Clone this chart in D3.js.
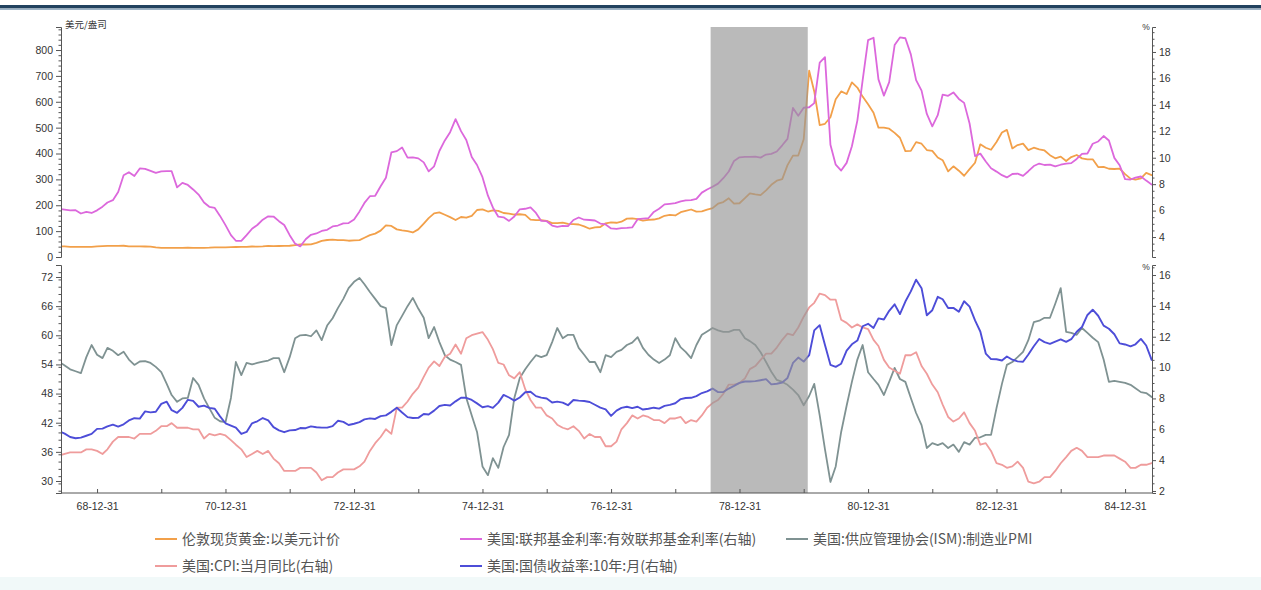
<!DOCTYPE html>
<html>
<head>
<meta charset="utf-8">
<script src="https://cdnjs.cloudflare.com/ajax/libs/d3/7.8.5/d3.min.js"></script>
<style>
  html,body{margin:0;padding:0;background:#fff;}
  svg{display:block;}
  .tick text{font-family:"Liberation Sans","DejaVu Sans",sans-serif;fill:#333;}
</style>
</head>
<body>
<svg id="chart" width="1261" height="590"></svg>
<script>
// ---------------- DATA (monthly, first value = 1968-05, month-end) ----------------
const startMonth = "1968-05";

// 伦敦现货黄金:以美元计价 (USD/oz, left axis, top panel)
const goldPrice = [
  41.0, 41.1, 39.5, 39.2, 39.5, 39.3, 39.2, 41.1,
  42.3, 42.8, 43.0, 43.3, 43.5, 41.3, 41.3, 41.0, 40.6, 40.4, 37.0, 35.2,
  34.9, 35.0, 35.1, 35.6, 35.9, 35.4, 35.3, 35.4, 36.2, 37.5, 37.4, 37.4,
  37.9, 38.7, 38.9, 39.0, 40.5, 40.1, 41.0, 42.7, 42.0, 42.5, 42.9, 43.5,
  45.8, 48.3, 48.3, 49.0, 54.6, 62.1, 65.7, 67.0, 65.5, 64.9, 62.9, 63.9,
  65.1, 74.2, 84.4, 90.5, 102.0, 122.5, 120.2, 106.8, 103.0, 100.1, 94.8, 106.7,
  129.2, 150.2, 168.4, 172.2, 163.3, 154.1, 142.9, 154.6, 151.8, 158.8, 181.7, 183.9,
  175.8, 180.0, 178.2, 170.1, 167.4, 164.2, 165.2, 163.1, 144.3, 142.8, 142.3, 139.3,
  131.0, 131.1, 132.6, 127.9, 126.9, 125.6, 118.3, 109.3, 114.3, 116.0, 130.3, 133.9,
  132.3, 136.3, 148.2, 149.2, 146.6, 140.8, 143.4, 144.9, 149.1, 159.3, 162.5, 160.5,
  173.3, 178.3, 183.6, 175.3, 176.3, 183.0, 189.0, 206.0, 212.3, 227.0, 206.0, 207.8,
  227.3, 245.7, 242.1, 239.2, 257.6, 279.1, 294.9, 300.8, 355.1, 392.0, 392.3, 455.1,
  720.0, 640.0, 510.0, 515.0, 540.0, 610.0, 640.0, 630.0, 675.0, 655.0, 620.0, 590.0,
  557.5, 500.0, 499.8, 495.8, 479.7, 460.8, 409.3, 410.2, 443.9, 437.8, 413.4, 410.1,
  384.4, 374.2, 330.8, 350.5, 333.5, 314.0, 339.5, 364.4, 435.6, 422.3, 414.6, 444.5,
  481.0, 491.5, 419.8, 432.8, 438.2, 412.9, 422.4, 416.3, 411.8, 393.6, 381.5, 388.0,
  370.9, 386.2, 394.3, 381.2, 377.7, 377.5, 347.6, 348.0, 341.1, 340.2, 341.2, 320.2,
  302.8, 299.1, 304.0, 324.9, 316.6
];

// 美国:联邦基金利率:有效联邦基金利率 (%, right axis, top panel)
const fedFundsRate = [
  6.12, 6.07, 6.02, 6.03, 5.78, 5.91, 5.82, 6.02,
  6.30, 6.61, 6.79, 7.41, 8.67, 8.90, 8.61, 9.19, 9.15, 9.00, 8.85, 8.97,
  8.98, 8.98, 7.76, 8.10, 7.94, 7.60, 7.21, 6.61, 6.29, 6.20, 5.60, 4.90,
  4.14, 3.72, 3.71, 4.15, 4.63, 4.91, 5.31, 5.57, 5.55, 5.20, 4.91, 4.14,
  3.50, 3.29, 3.83, 4.17, 4.27, 4.46, 4.55, 4.80, 4.87, 5.04, 5.06, 5.33,
  5.94, 6.58, 7.09, 7.12, 7.84, 8.49, 10.40, 10.50, 10.78, 10.01, 10.03, 9.95,
  9.65, 8.97, 9.35, 10.51, 11.31, 11.93, 12.92, 12.01, 11.34, 10.06, 9.45, 8.53,
  7.13, 6.24, 5.54, 5.49, 5.22, 5.55, 6.10, 6.14, 6.24, 5.82, 5.22, 5.20,
  4.87, 4.77, 4.84, 4.82, 5.29, 5.48, 5.31, 5.29, 5.25, 5.02, 4.95, 4.65,
  4.61, 4.68, 4.69, 4.73, 5.35, 5.39, 5.42, 5.90, 6.14, 6.47, 6.51, 6.56,
  6.70, 6.78, 6.79, 6.89, 7.36, 7.60, 7.81, 8.04, 8.45, 8.96, 9.76, 10.03,
  10.07, 10.06, 10.09, 10.01, 10.24, 10.29, 10.47, 10.94, 11.43, 13.77, 13.18, 13.78,
  13.82, 14.13, 17.19, 17.61, 10.98, 9.47, 9.03, 9.61, 10.87, 12.81, 15.85, 18.90,
  19.08, 15.93, 14.70, 15.72, 18.52, 19.10, 19.04, 17.82, 15.87, 15.08, 13.31, 12.37,
  13.22, 14.78, 14.68, 14.94, 14.45, 14.15, 12.59, 10.12, 10.31, 9.71, 9.20, 8.95,
  8.68, 8.51, 8.77, 8.80, 8.63, 8.98, 9.37, 9.56, 9.45, 9.48, 9.34, 9.47,
  9.56, 9.59, 9.91, 10.29, 10.32, 11.06, 11.23, 11.64, 11.30, 9.99, 9.43, 8.38,
  8.35, 8.50, 8.58, 8.27, 7.97
];

// 美国:供应管理协会(ISM):制造业PMI (left axis, bottom panel)
const ismPMI = [
  54.5, 53.8, 53.0, 52.6, 52.2, 55.5, 58.0, 56.0,
  55.3, 57.4, 56.8, 55.9, 56.6, 55.0, 53.9, 54.6, 54.7, 54.3, 53.5, 52.4,
  50.0, 47.7, 46.3, 47.0, 47.1, 51.2, 49.8, 47.0, 45.0, 43.0, 42.3, 42.1,
  47.1, 54.5, 51.8, 54.3, 54.0, 54.3, 54.6, 54.8, 55.3, 55.3, 52.4, 55.5,
  59.4, 60.0, 60.1, 59.8, 61.0, 59.0, 62.0, 63.5, 65.6, 67.5, 69.7, 71.0,
  71.8, 70.5, 68.9, 67.5, 66.0, 65.6, 58.0, 62.1, 64.0, 66.0, 67.7, 65.5,
  63.6, 59.4, 61.7, 58.6, 55.9, 55.0, 54.5, 53.9, 47.1, 43.5, 40.1, 33.0,
  31.2, 34.7, 32.7, 37.0, 39.5, 47.1, 51.2, 53.0, 54.5, 55.9, 55.5, 55.9,
  58.6, 61.5, 59.4, 60.1, 60.1, 57.4, 56.0, 54.5, 54.5, 52.4, 55.9, 55.5,
  56.6, 57.0, 58.0, 58.5, 59.6, 57.4, 56.0, 55.0, 54.3, 55.0, 55.9, 59.4,
  57.5, 56.6, 55.3, 58.0, 60.1, 60.8, 61.5, 61.0, 60.7, 60.7, 61.1, 61.1,
  59.4, 58.8, 58.0, 56.5, 54.5, 52.5, 50.8, 50.4, 49.8, 48.8, 47.7, 45.6,
  47.5, 50.0, 43.5, 36.5, 29.8, 33.0, 40.1, 45.5, 50.4, 55.0, 58.0, 52.4,
  51.0, 49.8, 47.7, 50.4, 53.3, 51.0, 50.4, 47.1, 44.0, 41.5, 36.8, 37.8,
  37.4, 37.8, 36.8, 37.5, 36.0, 38.0, 37.5, 38.9, 39.0, 39.5, 39.5, 45.0,
  50.0, 53.9, 54.5, 55.5, 56.6, 59.0, 62.7, 63.0, 63.6, 63.6, 66.5, 69.7,
  60.7, 60.5, 60.1, 61.5, 60.5, 59.5, 58.6, 55.0, 50.4, 50.6, 50.4, 50.2,
  49.8, 49.1, 48.3, 48.1, 47.3
];

// 美国:CPI:当月同比 (%, right axis, bottom panel)
const cpiYoY = [
  4.3, 4.4, 4.5, 4.5, 4.5, 4.7, 4.7, 4.6,
  4.4, 4.7, 5.2, 5.5, 5.5, 5.5, 5.4, 5.7, 5.7, 5.7, 5.9, 6.2,
  6.2, 6.4, 6.1, 6.1, 6.1, 6.0, 6.0, 5.4, 5.7, 5.6, 5.7, 5.6,
  5.3, 5.0, 4.7, 4.2, 4.4, 4.6, 4.4, 4.6, 4.1, 3.8, 3.3, 3.3,
  3.3, 3.5, 3.5, 3.5, 3.2, 2.7, 2.9, 2.9, 3.2, 3.4, 3.4, 3.4,
  3.6, 3.9, 4.6, 5.1, 5.5, 6.0, 5.7, 7.4, 7.4, 7.8, 8.3, 8.7,
  9.4, 10.0, 10.4, 10.1, 10.7, 10.9, 11.5, 10.9, 11.9, 12.1, 12.2, 12.3,
  11.8, 11.2, 10.3, 10.2, 9.5, 9.3, 9.7, 8.6, 7.9, 7.4, 7.4, 6.9,
  6.7, 6.3, 6.1, 6.0, 6.2, 5.9, 5.4, 5.7, 5.5, 5.5, 4.9, 4.9,
  5.2, 6.0, 6.4, 6.9, 6.7, 6.9, 6.8, 6.6, 6.6, 6.4, 6.7, 6.7,
  6.8, 6.4, 6.6, 6.5, 6.9, 7.4, 7.7, 7.9, 8.3, 8.9, 8.9, 9.0,
  9.3, 9.9, 10.1, 10.5, 10.9, 10.9, 11.3, 11.8, 12.2, 12.1, 12.6, 13.3,
  13.9, 14.2, 14.8, 14.7, 14.4, 14.4, 13.1, 12.9, 12.6, 12.8, 12.6, 12.5,
  11.8, 11.4, 10.5, 10.0, 9.8, 9.6, 10.8, 10.8, 11.0, 10.1, 9.6, 8.9,
  8.4, 7.6, 6.8, 6.5, 6.7, 7.1, 6.4, 5.9, 5.0, 5.1, 4.6, 3.8,
  3.7, 3.5, 3.6, 3.9, 3.5, 2.6, 2.5, 2.6, 2.9, 2.9, 3.3, 3.8,
  4.2, 4.6, 4.8, 4.6, 4.2, 4.2, 4.2, 4.3, 4.3, 4.3, 4.1, 3.9,
  3.5, 3.5, 3.7, 3.7, 3.8
];

// 美国:国债收益率:10年:月 (%, right axis, bottom panel)
const treasury10Y = [
  5.87, 5.72, 5.50, 5.42, 5.46, 5.58, 5.70, 6.03,
  6.04, 6.19, 6.30, 6.17, 6.32, 6.57, 6.72, 6.69, 7.16, 7.10, 7.14, 7.65,
  7.79, 7.24, 7.07, 7.39, 7.91, 7.84, 7.46, 7.53, 7.39, 7.33, 6.84, 6.39,
  6.24, 6.11, 5.70, 5.83, 6.39, 6.52, 6.73, 6.58, 6.14, 5.93, 5.81, 5.93,
  5.95, 6.08, 6.07, 6.19, 6.13, 6.11, 6.11, 6.21, 6.55, 6.48, 6.28, 6.36,
  6.46, 6.64, 6.71, 6.67, 6.85, 6.90, 7.13, 7.40, 7.09, 6.79, 6.73, 6.74,
  6.99, 6.96, 7.21, 7.51, 7.58, 7.54, 7.81, 8.04, 8.04, 7.90, 7.68, 7.43,
  7.50, 7.39, 7.73, 8.23, 8.06, 7.86, 8.06, 8.40, 8.43, 8.15, 8.05, 8.00,
  7.74, 7.79, 7.73, 7.56, 7.90, 7.86, 7.83, 7.77, 7.59, 7.41, 7.29, 6.87,
  7.21, 7.39, 7.46, 7.37, 7.46, 7.28, 7.33, 7.40, 7.34, 7.52, 7.58, 7.69,
  7.96, 8.03, 8.04, 8.15, 8.35, 8.46, 8.64, 8.41, 8.42, 8.64, 8.81, 9.01,
  9.10, 9.10, 9.12, 9.18, 9.25, 8.91, 8.95, 9.03, 9.33, 10.30, 10.65, 10.39,
  10.80, 12.41, 12.75, 11.47, 10.18, 10.05, 10.25, 11.10, 11.51, 11.75, 12.68, 12.84,
  12.57, 13.19, 13.12, 13.68, 14.10, 13.47, 14.28, 14.94, 15.70, 15.15, 13.39, 13.72,
  14.59, 14.43, 13.86, 13.87, 13.62, 14.30, 13.95, 13.06, 12.34, 10.91, 10.55, 10.54,
  10.46, 10.72, 10.51, 10.40, 10.38, 10.85, 11.38, 11.85, 11.65, 11.54, 11.69, 11.83,
  11.67, 11.84, 12.32, 12.63, 13.41, 13.75, 13.36, 12.72, 12.52, 12.16, 11.57, 11.50,
  11.38, 11.51, 11.86, 11.43, 10.50
];

// axis ticks and labels
const xTickLabels = ["68-12-31","70-12-31","72-12-31","74-12-31","76-12-31","78-12-31","80-12-31","82-12-31","84-12-31"];
const topLeftTicks = [0,100,200,300,400,500,600,700,800];
const topRightTicks = [4,6,8,10,12,14,16,18];
const botLeftTicks = [30,36,42,48,54,60,66,72];
const botRightTicks = [2,4,6,8,10,12,14,16];
const shadePeriod = ["1978-07-20","1980-01-23"];

const legendItems = [
  {name:"伦敦现货黄金:以美元计价", key:"gold"},
  {name:"美国:联邦基金利率:有效联邦基金利率(右轴)", key:"ff"},
  {name:"美国:供应管理协会(ISM):制造业PMI", key:"pmi"},
  {name:"美国:CPI:当月同比(右轴)", key:"cpi"},
  {name:"美国:国债收益率:10年:月(右轴)", key:"t10"}
];

// ---------------- LAYOUT / STYLE ----------------
const W = 1261, H = 590;
const X0 = 61, X1 = 1152;
const TOP = {y0: 27, y1: 257};
const BOT = {y0: 265, y1: 493};
const colors = {gold:"#f2a04a", ff:"#dc68dc", pmi:"#7f9292", cpi:"#ef9c9c", t10:"#4d4dd8"};
const axisColor = "#555";

const svg = d3.select("#chart");
svg.append("rect").attr("width", W).attr("height", H).attr("fill", "#fff");
// header rule
svg.append("rect").attr("x",0).attr("y",5).attr("width",W).attr("height",3.5).attr("fill","#22425f");
svg.append("rect").attr("x",0).attr("y",8.5).attr("width",W).attr("height",1.5).attr("fill","#9db3c6");
// faint bottom band
svg.append("rect").attr("x",0).attr("y",577).attr("width",W).attr("height",13).attr("fill","#f1f9f9");

const t0 = d3.timeParse("%Y-%m")(startMonth);
const monthEnd = i => d3.timeDay.offset(d3.timeMonth.offset(t0, i + 1), -1);
const toSeries = arr => arr.map((v, i) => ({date: monthEnd(i), v}));

const x = d3.scaleTime()
  .domain([new Date(1968, 5, 9), new Date(1985, 5, 2)])
  .range([X0, X1]);

const yGold = d3.scaleLinear().domain([0, 889]).range([TOP.y1, TOP.y0]);
const yFF   = d3.scaleLinear().domain([2.49, 19.89]).range([TOP.y1, TOP.y0]);
const yPMI  = d3.scaleLinear().domain([27.53, 74.47]).range([BOT.y1, BOT.y0]);
const yPct  = d3.scaleLinear().domain([1.87, 16.65]).range([BOT.y1, BOT.y0]);

const defs = svg.append("defs");
defs.append("clipPath").attr("id","clipTop").append("rect")
  .attr("x",X0).attr("y",TOP.y0).attr("width",X1-X0).attr("height",TOP.y1-TOP.y0);
defs.append("clipPath").attr("id","clipBot").append("rect")
  .attr("x",X0).attr("y",BOT.y0).attr("width",X1-X0).attr("height",BOT.y1-BOT.y0);

function drawLine(g, arr, yScale, color, w) {
  const line = d3.line().x(d => x(d.date)).y(d => yScale(d.v));
  g.append("path").datum(toSeries(arr))
    .attr("d", line).attr("fill","none")
    .attr("stroke", color).attr("stroke-width", w)
    .attr("stroke-linejoin","round").attr("stroke-linecap","round");
}

const gTop = svg.append("g").attr("clip-path","url(#clipTop)");
drawLine(gTop, goldPrice, yGold, colors.gold, 1.8);
drawLine(gTop, fedFundsRate, yFF, colors.ff, 1.8);

const gBot = svg.append("g").attr("clip-path","url(#clipBot)");
drawLine(gBot, ismPMI, yPMI, colors.pmi, 1.8);
drawLine(gBot, cpiYoY, yPct, colors.cpi, 1.8);
drawLine(gBot, treasury10Y, yPct, colors.t10, 1.9);

// shaded period over both panels
const sp = shadePeriod.map(d3.timeParse("%Y-%m-%d"));
svg.append("rect")
  .attr("x", x(sp[0])).attr("y", TOP.y0)
  .attr("width", x(sp[1]) - x(sp[0])).attr("height", BOT.y1 - TOP.y0)
  .attr("fill", "#979797").attr("fill-opacity", 0.66);

// ---------------- AXES ----------------
function styleAxis(g, fs) {
  g.selectAll(".domain").attr("stroke", axisColor);
  g.selectAll(".tick line").attr("stroke", axisColor);
  g.selectAll(".tick text").attr("font-size", fs);
}
function minor(g, axisFn, scale, vals, size) {
  g.append("g").call(axisFn(scale).tickValues(vals).tickSize(size).tickFormat(""))
    .call(a => { a.select(".domain").remove(); a.selectAll(".tick line").attr("stroke", axisColor); });
}

// top left
const gTL = svg.append("g").attr("transform",`translate(${X0},0)`);
gTL.call(d3.axisLeft(yGold).tickValues(topLeftTicks).tickSize(5).tickPadding(3));
styleAxis(gTL, 10.5);
minor(gTL, d3.axisLeft, yGold, d3.range(0, 881, 20).filter(v => v % 100), 2.5);
// top right
const gTR = svg.append("g").attr("transform",`translate(${X1},0)`);
gTR.call(d3.axisRight(yFF).tickValues(topRightTicks).tickSize(4).tickPadding(3));
styleAxis(gTR, 10.5);
minor(gTR, d3.axisRight, yFF, d3.range(3, 19.6, 0.5).filter(v => v % 2), 2.5);
// bottom left
const gBL = svg.append("g").attr("transform",`translate(${X0},0)`);
gBL.call(d3.axisLeft(yPMI).tickValues(botLeftTicks).tickSize(5).tickPadding(3));
styleAxis(gBL, 10.5);
minor(gBL, d3.axisLeft, yPMI, d3.range(28, 74.1, 1.5).filter(v => (v % 6) !== 0), 2.5);
// bottom right
const gBR = svg.append("g").attr("transform",`translate(${X1},0)`);
gBR.call(d3.axisRight(yPct).tickValues(botRightTicks).tickSize(4).tickPadding(3));
styleAxis(gBR, 10.5);
minor(gBR, d3.axisRight, yPct, d3.range(2.5, 16.6, 0.5).filter(v => v % 2), 2.5);

// x axis (bottom panel)
const tickDates = d3.range(1968, 1985).map(yv => new Date(yv, 11, 31));
const labelMap = new Map(xTickLabels.map(s => [2000 - 100 + (+s.slice(0,2)) , s]));
const gX = svg.append("g").attr("transform",`translate(0,${BOT.y1})`);
gX.call(d3.axisBottom(x).tickValues(tickDates).tickSize(-4).tickPadding(10)
  .tickFormat(d => labelMap.get(d.getFullYear()) || ""));
styleAxis(gX, 10.5);
gX.select(".domain").attr("d", `M${X0},0H${X1}`);

// units
svg.append("text").attr("x", 65).attr("y", 28)
  .attr("font-family","Noto Sans CJK SC, sans-serif").attr("font-size", 9.5).attr("fill","#333")
  .text("美元/盎司");
svg.append("text").attr("x", 1146).attr("y", 30).attr("text-anchor","middle")
  .attr("font-family","Liberation Sans, sans-serif").attr("font-size", 8.5).attr("fill","#333").text("%");
svg.append("text").attr("x", 1146).attr("y", 270).attr("text-anchor","middle")
  .attr("font-family","Liberation Sans, sans-serif").attr("font-size", 8.5).attr("fill","#333").text("%");

// ---------------- LEGEND ----------------
const legendPos = [[155,539],[460,539],[786,539],[155,566],[460,566]];
const gL = svg.append("g");
legendItems.forEach((it, i) => {
  const [lx, ly] = legendPos[i];
  gL.append("line").attr("x1", lx).attr("x2", lx + 22).attr("y1", ly).attr("y2", ly)
    .attr("stroke", colors[it.key]).attr("stroke-width", 2);
  gL.append("text").attr("x", lx + 27).attr("y", ly).attr("dy", "0.35em")
    .attr("font-family", "Noto Sans CJK SC, sans-serif").attr("font-size", 14)
    .attr("fill", "#555").text(it.name);
});
</script>
</body>
</html>
